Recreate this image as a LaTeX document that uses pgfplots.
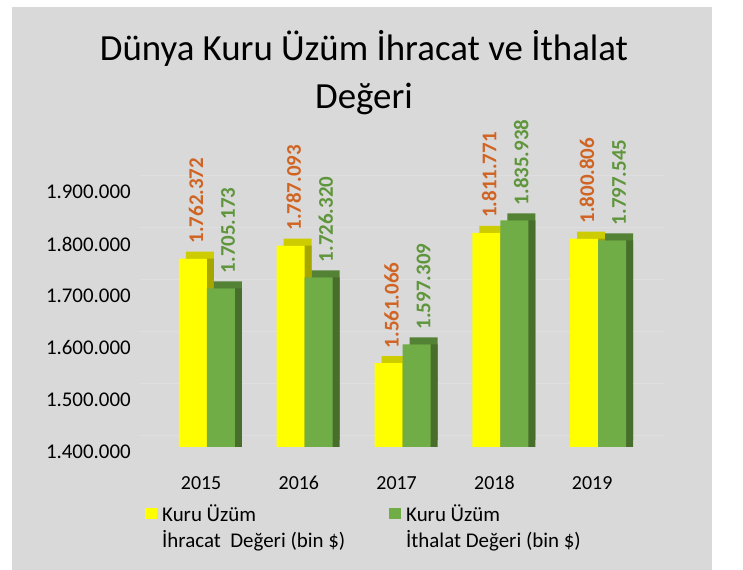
\documentclass[border=0pt]{standalone}
\usepackage{fontspec}
\setmainfont{Carlito}
\usepackage{graphicx}
\usepackage{pgfplots}
\usepackage{pgfplotstable}
\pgfplotsset{compat=1.18}

\definecolor{ChartBg}{RGB}{217,217,217}
\definecolor{GridLine}{RGB}{223,223,223}
\definecolor{YelFront}{RGB}{255,255,0}
\definecolor{YelTop}{RGB}{204,204,0}
\definecolor{YelSide}{RGB}{166,166,0}
\definecolor{GrnFront}{RGB}{112,173,71}
\definecolor{GrnTop}{RGB}{84,130,53}
\definecolor{GrnSide}{RGB}{72,110,44}
\definecolor{LblOrange}{RGB}{208,100,35}
\definecolor{LblGreen}{RGB}{95,150,60}

% ihracat (export) and ithalat (import), bin $
\pgfplotstableread{
x y lab
0 1762372 1.762.372
1 1787093 1.787.093
2 1561066 1.561.066
3 1811771 1.811.771
4 1800806 1.800.806
}\ihracat
\pgfplotstableread{
x y lab
0 1705173 1.705.173
1 1726320 1.726.320
2 1597309 1.597.309
3 1835938 1.835.938
4 1797545 1.797.545
}\ithalat

\newcommand{\legfont}{\fontsize{21}{26}\selectfont}

\begin{document}
\begin{tikzpicture}
\useasboundingbox (0,0) rectangle (743bp,570bp);
\fill[white] (0,0) rectangle (743bp,570bp);
\fill[ChartBg] (12bp,0) rectangle (712bp,563bp);
\node[anchor=base, inner sep=0pt, font=\fontsize{37}{44}\selectfont] at (364bp,509bp) {Dünya Kuru Üzüm İhracat ve İthalat};
\node[anchor=base, inner sep=0pt, font=\fontsize{37}{44}\selectfont] at (364bp,461bp) {Değeri};

\begin{axis}[
  at={(140bp,123bp)}, anchor=south west,
  scale only axis, width=525bp, height=338bp,
  xmin=-0.685, xmax=4.685,
  ymin=1400000, ymax=2050000,
  axis line style={draw=none},
  tick style={draw=none},
  ytick={1400000,1500000,1600000,1700000,1800000,1900000},
  scaled y ticks=false,
  yticklabel style={font=\fontsize{21}{21}\selectfont, anchor=east, inner sep=0pt, xshift=-9bp, yshift=-5bp,
    /pgf/number format/.cd, fixed, 1000 sep={.}, assume math mode=true},
  xtick={-0.06,0.94,1.94,2.94,3.94},
  xticklabels={2015,2016,2017,2018,2019},
  xticklabel style={font=\fontsize{20}{20}\selectfont, anchor=base, inner sep=0pt, yshift=-42bp},
  ymajorgrids,
  major grid style={GridLine, line width=0.8bp, yshift=12bp},
  point meta=explicit symbolic,
  legend columns=2,
  legend cell align=left,
  legend style={at={(axis description cs:0.0095,-0.169)}, anchor=north west,
    draw=none, fill=none, inner sep=0pt,
    nodes={inner sep=0pt}, column sep=0pt},
]
% yellow bars: top face, side face, front
\addplot[ybar, bar width=28bp, bar shift=-7bp, yshift=7bp, fill=YelTop, draw=none, forget plot]
  table[x=x, y=y] {\ihracat};
\addplot[ybar, bar width=28bp, bar shift=-7bp, fill=YelSide, draw=none, forget plot]
  table[x=x, y=y] {\ihracat};
\addplot[ybar, bar width=28bp, bar shift=-14bp, fill=YelFront, draw=none,
  legend image code/.code={\fill[YelFront] (0bp,-6bp) rectangle (12bp,5bp); \path (17bp,0bp);},
  nodes near coords={\rotatebox{90}{\pgfplotspointmeta}},
  every node near coord/.append style={anchor=south, xshift=-11bp, yshift=15bp, inner sep=0pt,
    font=\fontsize{21}{21}\selectfont\bfseries, text=LblOrange}]
  table[x=x, y=y, meta=lab] {\ihracat};
\addlegendentry{\parbox[t]{227bp}{\legfont Kuru Üzüm\\İhracat\ \ Değeri (bin \$)}}

% green bars: top face, side face, front
\addplot[ybar, bar width=28bp, bar shift=21bp, yshift=7bp, fill=GrnTop, draw=none, forget plot]
  table[x=x, y=y] {\ithalat};
\addplot[ybar, bar width=28bp, bar shift=21bp, fill=GrnSide, draw=none, forget plot]
  table[x=x, y=y] {\ithalat};
\addplot[ybar, bar width=28bp, bar shift=14bp, fill=GrnFront, draw=none,
  legend image code/.code={\fill[GrnFront] (0bp,-6bp) rectangle (12bp,5bp); \path (17bp,0bp);},
  nodes near coords={\rotatebox{90}{\pgfplotspointmeta}},
  every node near coord/.append style={anchor=south, xshift=21bp, yshift=15bp, inner sep=0pt,
    font=\fontsize{21}{21}\selectfont\bfseries, text=LblGreen}]
  table[x=x, y=y, meta=lab] {\ithalat};
\addlegendentry{\parbox[t]{227bp}{\legfont Kuru Üzüm\\İthalat Değeri (bin \$)}}
\end{axis}
\end{tikzpicture}
\end{document}
